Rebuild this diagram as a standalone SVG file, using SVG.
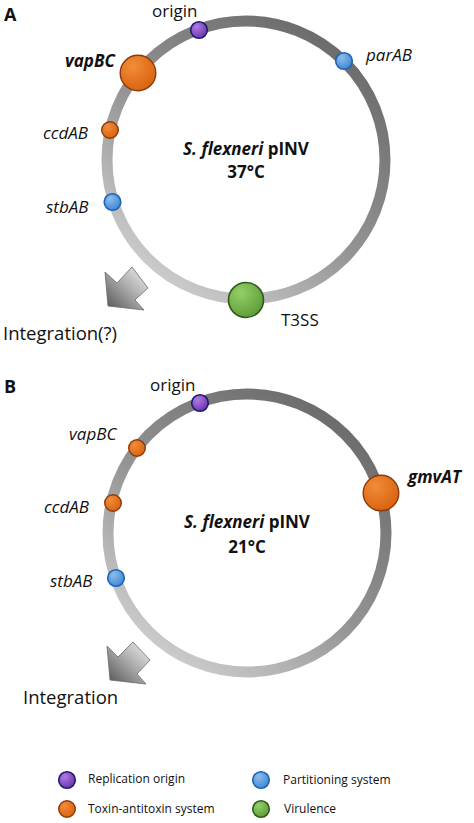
<svg xmlns="http://www.w3.org/2000/svg" width="474" height="823" viewBox="0 0 474 823">
<defs>
  <linearGradient id="ring" x1="0.85" y1="0.05" x2="0.2" y2="0.95">
    <stop offset="0" stop-color="#696969"/>
    <stop offset="0.55" stop-color="#939393"/>
    <stop offset="1" stop-color="#cdcdcd"/>
  </linearGradient>
  <linearGradient id="arrowFill" x1="1" y1="0" x2="0" y2="1">
    <stop offset="0" stop-color="#f2f2f2"/>
    <stop offset="0.45" stop-color="#b0b0b0"/>
    <stop offset="1" stop-color="#505050"/>
  </linearGradient>
  <radialGradient id="gPurple" cx="0.35" cy="0.3" r="0.75">
    <stop offset="0" stop-color="#b07ae6"/>
    <stop offset="1" stop-color="#6a34aa"/>
  </radialGradient>
  <radialGradient id="gOrange" cx="0.35" cy="0.3" r="0.75">
    <stop offset="0" stop-color="#f28c38"/>
    <stop offset="1" stop-color="#d8620f"/>
  </radialGradient>
  <radialGradient id="gBlue" cx="0.35" cy="0.3" r="0.75">
    <stop offset="0" stop-color="#8cbdec"/>
    <stop offset="1" stop-color="#3f86d0"/>
  </radialGradient>
  <radialGradient id="gGreen" cx="0.35" cy="0.3" r="0.75">
    <stop offset="0" stop-color="#94d066"/>
    <stop offset="1" stop-color="#5b9c38"/>
  </radialGradient>
</defs>
<style>
  text { font-family: "Open Sans", "Liberation Sans", sans-serif; fill: #111; }
  .lbl { font-size: 17px; }
  .it { font-style: italic; }
  .bi { font-style: italic; font-weight: bold; }
  .ctr { font-size: 17px; font-weight: bold; text-anchor: middle; }
  .panel { font-size: 18px; font-weight: bold; }
  .big { font-size: 18.5px; }
  .leg { font-size: 12px; }
  .ringc { fill: none; stroke: url(#ring); stroke-width: 11; }
  .purple { fill: url(#gPurple); stroke: #1c1c6e; stroke-width: 1.6; }
  .orange { fill: url(#gOrange); stroke: #8a3a0c; stroke-width: 1.4; }
  .blue { fill: url(#gBlue); stroke: #1d63b8; stroke-width: 1.6; }
  .green { fill: url(#gGreen); stroke: #2e5a1a; stroke-width: 1.6; }
  .arrow { fill: url(#arrowFill); stroke: #6a6a6a; stroke-width: 0.8; }
</style>

<!-- Panel A -->
<text class="panel" x="4" y="21">A</text>
<g id="plasmidA">
  <circle class="ringc" cx="246" cy="160" r="139"/>
  <text class="ctr" x="246" y="155"><tspan font-style="italic">S. flexneri</tspan> pINV</text>
  <text class="ctr" x="246" y="178">37°C</text>
</g>
<g id="A-origin">
  <circle class="purple" cx="199" cy="30" r="8.3"/>
  <text class="lbl" x="152" y="17">origin</text>
</g>
<g id="A-parAB">
  <circle class="blue" cx="344" cy="61" r="8.3"/>
  <text class="lbl it" x="366" y="61">parAB</text>
</g>
<g id="A-vapBC">
  <circle class="orange" cx="138" cy="73" r="17.8"/>
  <text class="lbl bi" x="65" y="67">vapBC</text>
</g>
<g id="A-ccdAB">
  <circle class="orange" cx="110" cy="130" r="8.3"/>
  <text class="lbl it" x="43" y="139">ccdAB</text>
</g>
<g id="A-stbAB">
  <circle class="blue" cx="112.5" cy="202" r="8.3"/>
  <text class="lbl it" x="46" y="213">stbAB</text>
</g>
<g id="A-T3SS">
  <circle class="green" cx="246" cy="300" r="17.5"/>
  <text class="lbl" x="281" y="326">T3SS</text>
</g>
<g id="A-integration">
  <text class="big" x="3" y="340">Integration(?)</text>
</g>

<!-- Panel B -->
<text class="panel" x="4" y="393">B</text>
<g id="plasmidB">
  <circle class="ringc" cx="247" cy="533" r="139"/>
  <text class="ctr" x="247" y="528"><tspan font-style="italic">S. flexneri</tspan> pINV</text>
  <text class="ctr" x="247" y="553">21°C</text>
</g>
<g id="B-origin">
  <circle class="purple" cx="200" cy="403" r="8.3"/>
  <text class="lbl" x="150" y="391">origin</text>
</g>
<g id="B-vapBC">
  <circle class="orange" cx="137" cy="448" r="8.3"/>
  <text class="lbl it" x="69" y="440">vapBC</text>
</g>
<g id="B-ccdAB">
  <circle class="orange" cx="113" cy="503" r="8.3"/>
  <text class="lbl it" x="44" y="513">ccdAB</text>
</g>
<g id="B-stbAB">
  <circle class="blue" cx="116" cy="578" r="8.3"/>
  <text class="lbl it" x="50" y="587">stbAB</text>
</g>
<g id="B-gmvAT">
  <circle class="orange" cx="381" cy="493" r="17.8"/>
  <text class="lbl bi" x="408" y="483">gmvAT</text>
</g>
<g id="B-integration">
  <text class="big" x="23" y="704">Integration</text>
</g>

<!-- Arrows -->
<g id="connectors">
  <polygon class="arrow" points="108,306 105,272 117,283 132,267 148,288 135,300 144,310"/>
  <polygon class="arrow" points="110,680 107,646 118,657 133,642 150,660 137,674 146,684"/>
</g>

<!-- Legend -->
<g id="legend-origin">
  <circle class="purple" cx="67" cy="780" r="8.3"/>
  <text class="leg" x="88" y="783">Replication origin</text>
</g>
<g id="legend-ta">
  <circle class="orange" cx="67" cy="809" r="8.3"/>
  <text class="leg" x="88" y="813">Toxin-antitoxin system</text>
</g>
<g id="legend-part">
  <circle class="blue" cx="261" cy="780" r="8.3"/>
  <text class="leg" x="283" y="784">Partitioning system</text>
</g>
<g id="legend-vir">
  <circle class="green" cx="261" cy="809" r="8.3"/>
  <text class="leg" x="284" y="813">Virulence</text>
</g>
</svg>
